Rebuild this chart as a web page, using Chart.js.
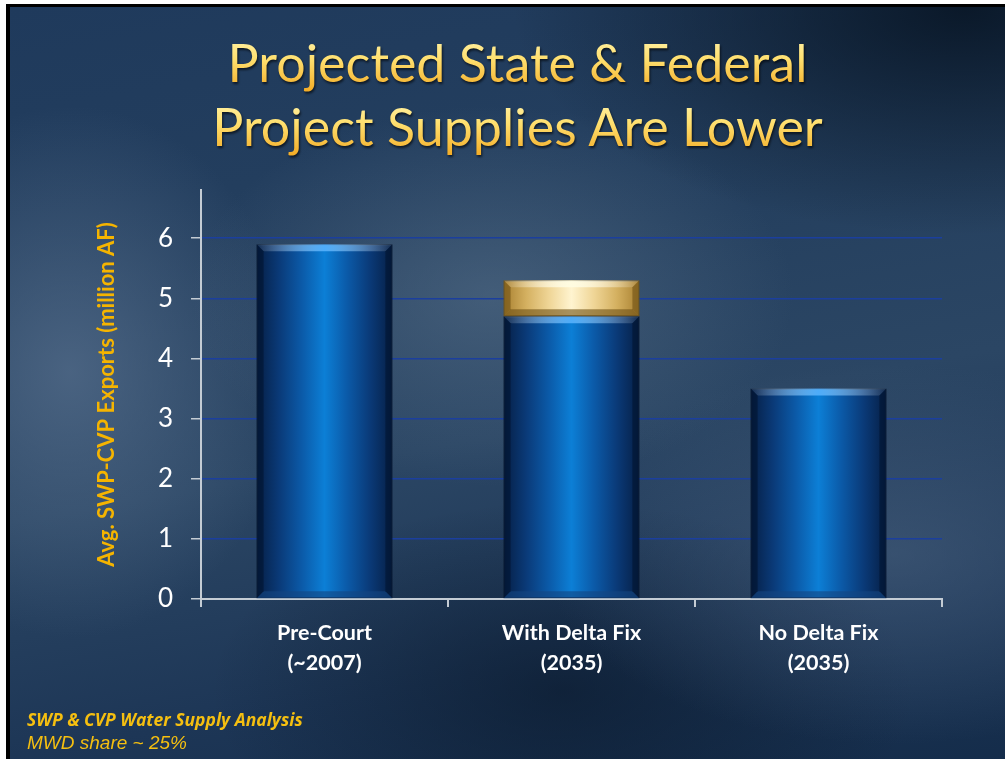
<!DOCTYPE html>
<html>
<head>
<meta charset="utf-8">
<script src="https://cdn.jsdelivr.net/npm/chart.js@4"></script>
<style>
  html, body { margin: 0; padding: 0; background: #fff; }
  #page { position: relative; width: 1005px; height: 759px; overflow: hidden; }
  #slide {
    position: absolute; left: 6px; top: 4px; width: 1005px; height: 760px;
    border-left: 4px solid #000; border-top: 3px solid #000;
    background:
      radial-gradient(ellipse 45% 30% at 95% 0%, rgba(6,18,32,0.85), rgba(6,18,32,0) 100%),
      radial-gradient(ellipse 30% 25% at 48% 38%, rgba(95,120,145,0.5), rgba(95,120,145,0) 100%),
      radial-gradient(ellipse 22% 35% at 6% 48%, rgba(85,110,140,0.75), rgba(85,110,140,0) 100%),
      radial-gradient(ellipse 35% 25% at 88% 72%, rgba(75,100,130,0.55), rgba(75,100,130,0) 100%),
      radial-gradient(ellipse 35% 25% at 55% 90%, rgba(8,22,40,0.6), rgba(8,22,40,0) 100%),
      linear-gradient(170deg, #1f3a5c 0%, #25405f 35%, #2b4664 55%, #1d3656 80%, #142c4a 100%);
  }
  #title {
    position: absolute; left: 0; top: 30px; width: 1005px; padding-left: 30px; box-sizing: border-box;
    text-align: center; font-family: Lato, sans-serif; font-size: 52px; line-height: 64px;
    background: linear-gradient(180deg, #fff7b8 0%, #ffe070 45%, #f2a820 100%);
    background-size: 100% 64px;
    -webkit-background-clip: text; background-clip: text; color: transparent;
    filter: drop-shadow(1px 2px 1px rgba(0,0,0,0.6));
  }
  #foot { position: absolute; left: 27px; top: 707px; color: #f5bf10; }
  #foot .a { font-family: "Open Sans", sans-serif; font-weight: bold; font-style: italic; font-size: 17.5px; line-height: 25px; }
  #foot .b { font-family: "Liberation Sans", Arial, sans-serif; font-style: italic; font-size: 19px; line-height: 22px; }
  canvas { position: absolute; left: 0; top: 0; }
</style>
</head>
<body>
<div id="page">
  <div id="slide"></div>
  <div id="title">Projected State &amp; Federal<br>Project Supplies Are Lower</div>
  <canvas id="chart" width="1005" height="759"></canvas>
  <div id="foot"><div class="a">SWP &amp; CVP Water Supply Analysis</div><div class="b">MWD share ~ 25%</div></div>
</div>
<script>
const categories = [['Pre-Court', '(~2007)'], ['With Delta Fix', '(2035)'], ['No Delta Fix', '(2035)']];
const baseSupply = [5.9, 4.7, 3.5];
const fixGain = [0, 0.6, 0];
const yTicks = [0, 1, 2, 3, 4, 5, 6];

function barGradient(ctx, stops) {
  const chart = ctx.chart;
  const xs = chart.scales.x;
  if (!chart.chartArea || !xs) return stops[Math.floor(stops.length / 2)];
  const cx = xs.getPixelForValue(ctx.dataIndex);
  const half = (xs.getPixelForValue(1) - xs.getPixelForValue(0)) * 0.55 / 2;
  const g = chart.ctx.createLinearGradient(cx - half, 0, cx + half, 0);
  stops.forEach((c, i) => g.addColorStop(i / (stops.length - 1), c));
  return g;
}
const blueStops = ['#061f45', '#0a3a78', '#0b5aa8', '#0c7fd6', '#0b5aa8', '#0a3a78', '#061f45'];
const goldStops = ['#a88030', '#d4b060', '#efd596', '#fff4d0', '#efd596', '#d4b060', '#a88030'];

// bevel highlight drawn on each bar element
const bevel = {
  id: 'bevel',
  afterDatasetsDraw(chart) {
    const c = chart.ctx;
    chart.data.datasets.forEach((ds, di) => {
      chart.getDatasetMeta(di).data.forEach(bar => {
        const p = bar.getProps(['x', 'y', 'base', 'width'], true);
        if (Math.abs(p.base - p.y) < 1) return;
        const l = p.x - p.width / 2, r = p.x + p.width / 2;
        const light = di === 0 ? 'rgba(90,180,255,0.85)' : 'rgba(255,252,225,0.95)';
        const dark = di === 0 ? 'rgba(0,15,40,0.5)' : 'rgba(110,80,20,0.6)';
        c.save();
        c.beginPath();
        c.moveTo(l, p.y); c.lineTo(r, p.y); c.lineTo(r - 7, p.y + 7); c.lineTo(l + 7, p.y + 7); c.closePath();
        const g = c.createLinearGradient(l, 0, r, 0);
        g.addColorStop(0, 'rgba(255,255,255,0.05)');
        g.addColorStop(0.5, light);
        g.addColorStop(1, 'rgba(255,255,255,0.05)');
        c.fillStyle = g; c.fill();
        c.beginPath();
        c.moveTo(l, p.base); c.lineTo(r, p.base); c.lineTo(r - 7, p.base - 7); c.lineTo(l + 7, p.base - 7); c.closePath();
        c.fillStyle = di === 0 ? 'rgba(20,70,130,0.6)' : dark; c.fill();
        c.beginPath();
        c.moveTo(l, p.y); c.lineTo(l + 7, p.y + 7); c.lineTo(l + 7, p.base - 7); c.lineTo(l, p.base); c.closePath();
        c.fillStyle = dark; c.fill();
        c.beginPath();
        c.moveTo(r, p.y); c.lineTo(r - 7, p.y + 7); c.lineTo(r - 7, p.base - 7); c.lineTo(r, p.base); c.closePath();
        c.fillStyle = dark; c.fill();
        c.restore();
      });
    });
  }
};

new Chart(document.getElementById('chart').getContext('2d'), {
  type: 'bar',
  data: {
    labels: categories,
    datasets: [
      {
        label: 'Base',
        data: baseSupply,
        backgroundColor: ctx => barGradient(ctx, blueStops),
        borderColor: '#041630',
        borderWidth: 1,
        borderSkipped: false,
        barPercentage: 0.55,
        categoryPercentage: 1
      },
      {
        label: 'Delta Fix',
        data: fixGain,
        backgroundColor: ctx => barGradient(ctx, goldStops),
        borderColor: '#7a5a18',
        borderWidth: 1,
        borderSkipped: false,
        barPercentage: 0.55,
        categoryPercentage: 1
      }
    ]
  },
  options: {
    responsive: false,
    animation: false,
    layout: { padding: { left: 84, top: 190, right: 63, bottom: 0 } },
    plugins: { legend: { display: false }, tooltip: { enabled: false } },
    scales: {
      x: {
        stacked: true,
        afterFit: s => { s.height = 160; },
        grid: { drawOnChartArea: false, tickLength: 8, tickColor: '#c4ccd4', lineWidth: 2, offset: true },
        border: { color: '#c4ccd4', width: 2 },
        ticks: { color: '#ffffff', padding: 11, font: { family: 'Lato', size: 21.5, weight: 'bold', lineHeight: 1.4 } }
      },
      y: {
        stacked: true,
        min: 0,
        max: 6.8,
        afterFit: s => { s.width = 117; },
        afterBuildTicks: s => { s.ticks = yTicks.map(v => ({ value: v })); },
        grid: { color: '#1b3f9e', lineWidth: 1.5, tickLength: 10, tickColor: '#c4ccd4' },
        border: { color: '#c4ccd4', width: 2 },
        ticks: { color: '#ffffff', padding: 18, font: { family: 'Lato', size: 26 } },
        title: {
          display: true,
          text: 'Avg. SWP-CVP Exports (million AF)',
          color: '#f5b400',
          padding: { top: 10, bottom: 0 },
          font: { family: 'Lato', size: 22, weight: 'bold' }
        }
      }
    }
  },
  plugins: [bevel]
});
</script>
</body>
</html>
